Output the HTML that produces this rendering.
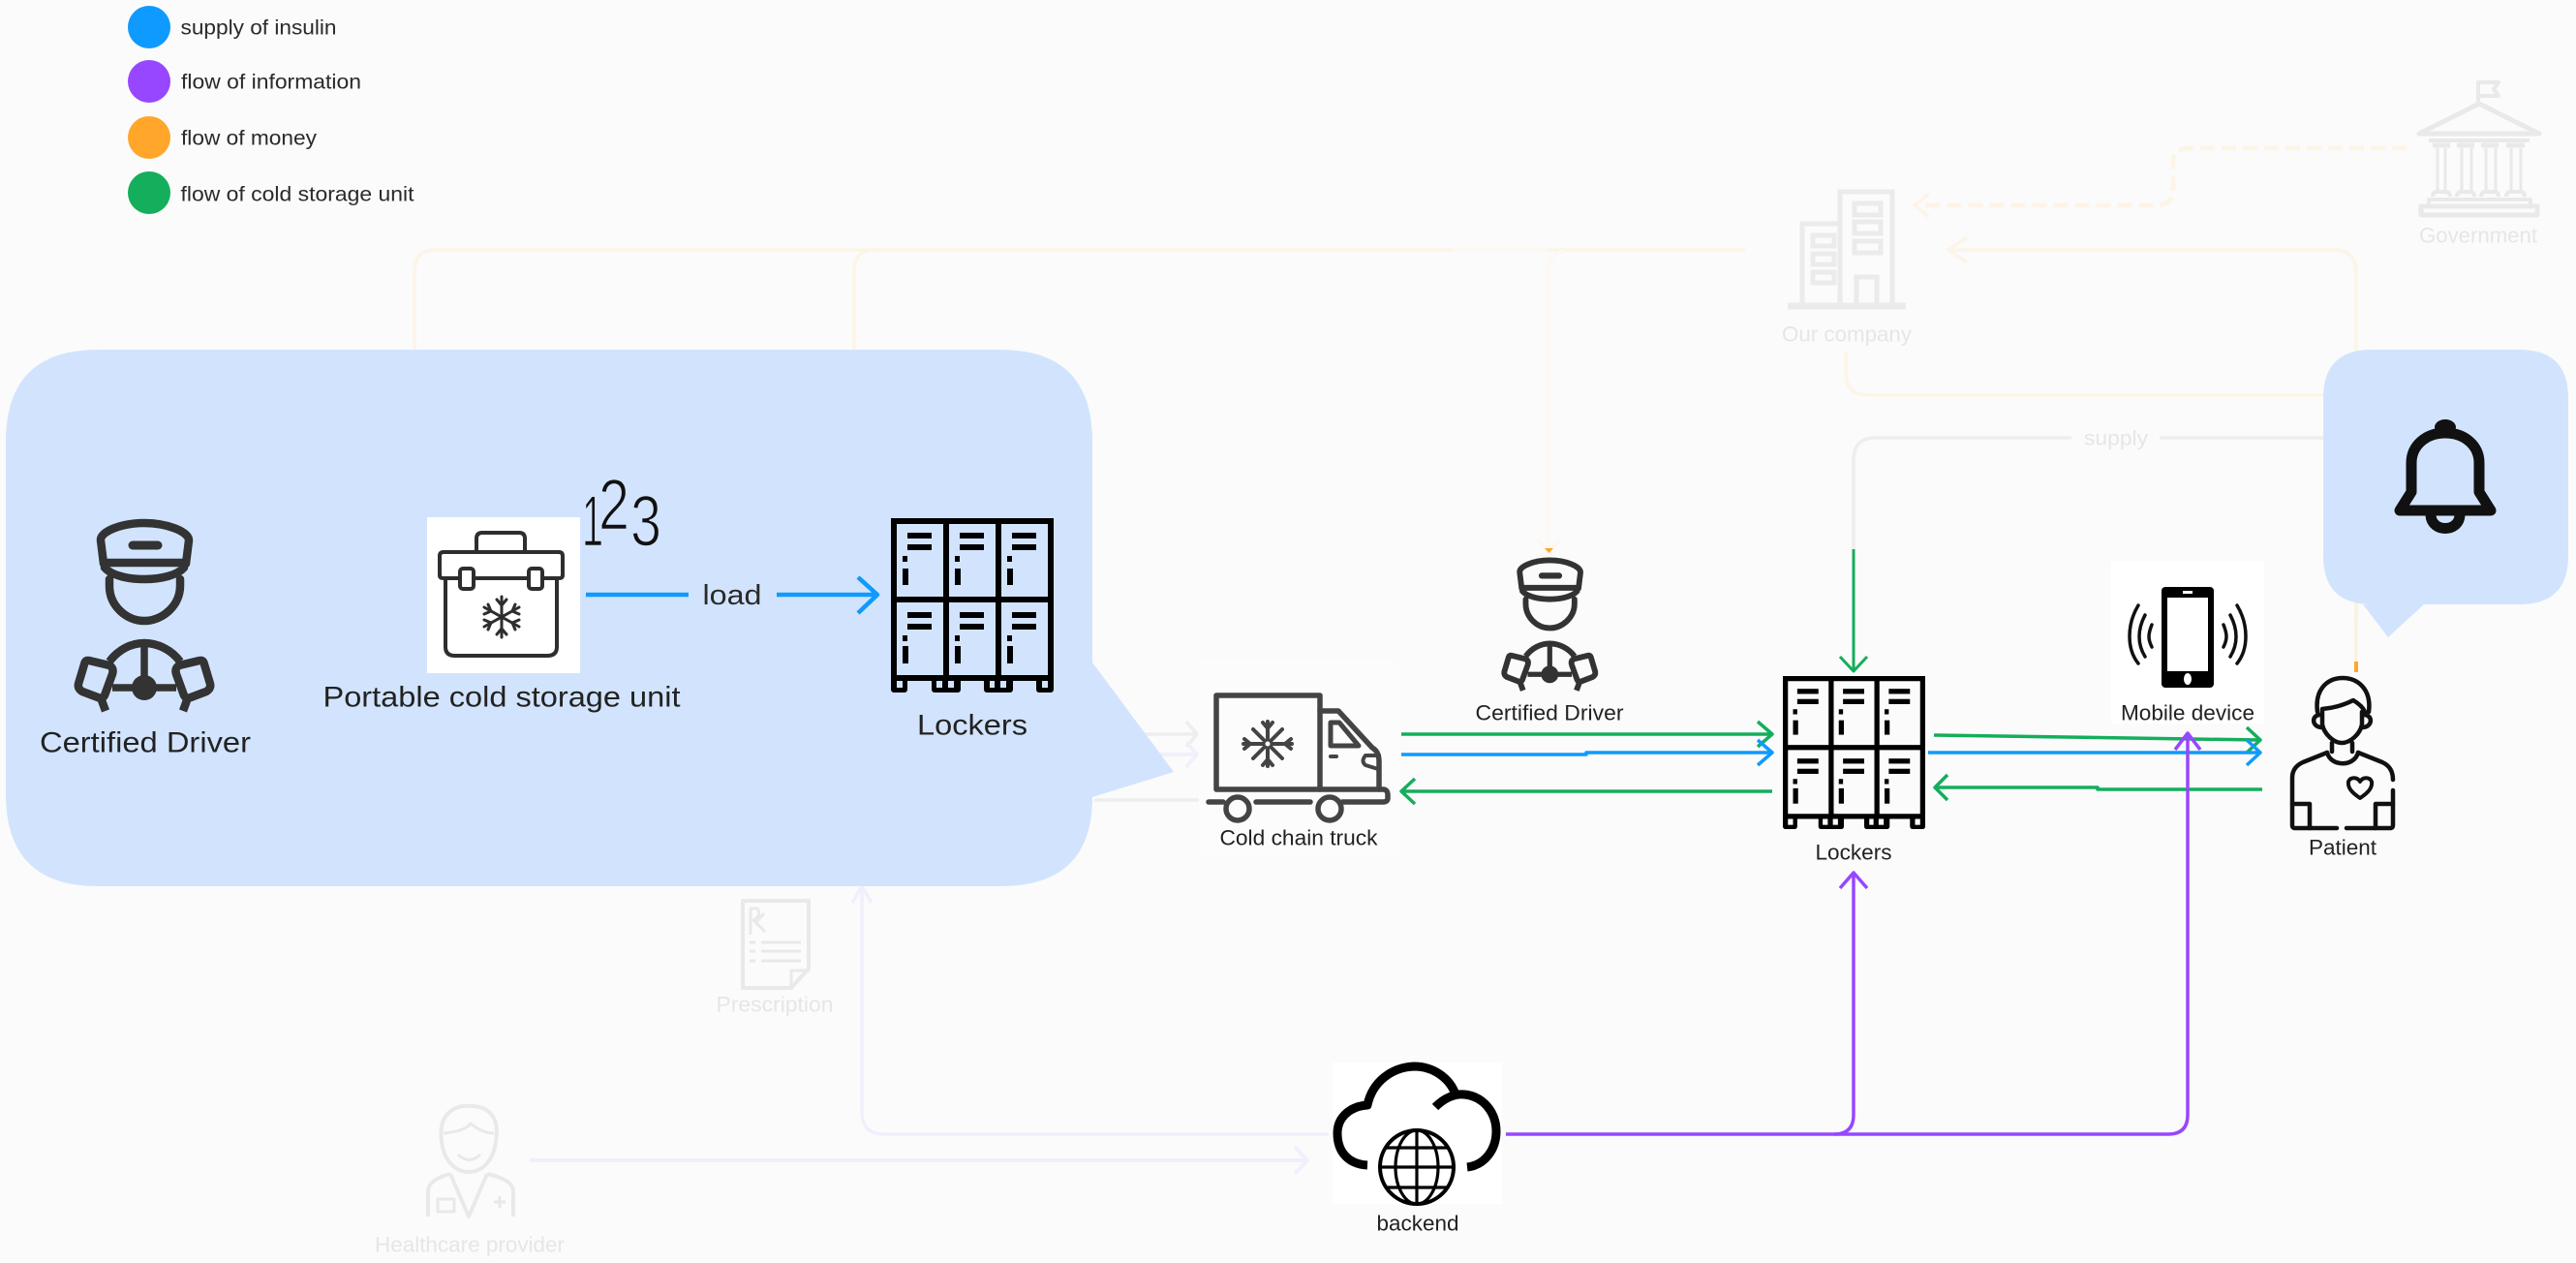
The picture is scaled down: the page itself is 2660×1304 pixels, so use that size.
<!DOCTYPE html>
<html><head><meta charset="utf-8"><style>
html,body{margin:0;padding:0;background:#fbfbfb;width:2660px;height:1304px;overflow:hidden}
svg{display:block}
text{font-family:"Liberation Sans",sans-serif;text-anchor:middle;dominant-baseline:central}
.l{fill:none;stroke-linecap:butt;stroke-linejoin:round}
.i{fill:none;stroke-linecap:round;stroke-linejoin:round}
</style></head><body>
<svg width="2660" height="1304" viewBox="0 0 2660 1304" xmlns="http://www.w3.org/2000/svg">
<defs>
<g id="driver">
 <g class="i" stroke="#333" stroke-width="8.5">
  <path d="M107,582 L104,558 C103,549 125,540 149,540 C173,540 195,549 195,558 L192,582"/>
  <path d="M107,581 H191"/>
  <path d="M108,586 C122,602 176,602 190,586"/>
  <path d="M113,598 V605 C113,625 130,641 149,641 C168,641 186,625 186,605 V598"/>
  <path d="M137,563 H163" stroke-width="9"/>
  <path d="M113,683 C122,671 135,664 149,664 C163,664 177,671 186,683" stroke-linecap="butt"/>
  <path d="M149,664 V705 M116,710 H182" stroke-linecap="butt" stroke-width="7.5"/>
  <path d="M92,682 L113,687 Q118,690 116,696 L108,718 Q106,722 101,720 L85,714 Q80,711 81,706 L87,686 Q88,681 92,682Z"/>
  <path d="M206,682 L185,687 Q180,690 182,696 L190,718 Q192,722 197,720 L213,714 Q218,711 217,706 L211,686 Q210,681 206,682Z"/>
  <path d="M105,723 L109,734 M193,723 L189,734" stroke-linecap="butt"/>
 </g>
 <circle cx="149" cy="710" r="13" fill="#333"/>
</g>
<g id="lockers">
 <g fill="none" stroke="#000" stroke-width="6">
  <path d="M923,538 H1085 V700 H923Z"/>
  <path d="M977,538 V700 M1031,538 V700 M923,619 H1085"/>
 </g>
 <path d="M920,703h17v9a3,3 0 0 1 -3,3h-11a3,3 0 0 1 -3,-3Z M962,703h30v9a3,3 0 0 1 -3,3h-24a3,3 0 0 1 -3,-3Z M1016,703h30v9a3,3 0 0 1 -3,3h-24a3,3 0 0 1 -3,-3Z M1070,703h18v9a3,3 0 0 1 -3,3h-12a3,3 0 0 1 -3,-3Z" fill="#000"/>
 <rect x="926" y="703" width="6" height="7"/><rect x="967" y="703" width="6" height="7"/><rect x="979" y="703" width="6" height="7"/><rect x="1022" y="703" width="5" height="7"/><rect x="1033" y="703" width="6" height="7"/><rect x="1076" y="703" width="6" height="7"/>
 <g fill="#000">
  <rect x="937" y="550" width="25" height="6"/><rect x="937" y="562" width="25" height="6"/><rect x="932" y="574" width="5" height="6"/><rect x="932" y="587" width="6" height="17"/>
  <rect x="937" y="632" width="25" height="6"/><rect x="937" y="644" width="25" height="6"/><rect x="932" y="656" width="5" height="6"/><rect x="932" y="667" width="6" height="18"/>
  <rect x="991" y="550" width="25" height="6"/><rect x="991" y="562" width="25" height="6"/><rect x="986" y="574" width="5" height="6"/><rect x="986" y="587" width="6" height="17"/>
  <rect x="991" y="632" width="25" height="6"/><rect x="991" y="644" width="25" height="6"/><rect x="986" y="656" width="5" height="6"/><rect x="986" y="667" width="6" height="18"/>
  <rect x="1045" y="550" width="25" height="6"/><rect x="1045" y="562" width="25" height="6"/><rect x="1040" y="574" width="5" height="6"/><rect x="1040" y="587" width="6" height="17"/>
  <rect x="1045" y="632" width="25" height="6"/><rect x="1045" y="644" width="25" height="6"/><rect x="1040" y="656" width="5" height="6"/><rect x="1040" y="667" width="6" height="18"/>
 </g>
</g>
</defs>

<rect width="2660" height="1304" fill="#fbfbfb"/>

<!-- legend -->
<circle cx="154" cy="28" r="22" fill="#0f9aff"/>
<circle cx="154" cy="84" r="22" fill="#9747ff"/>
<circle cx="154" cy="142" r="22" fill="#ffa62b"/>
<circle cx="154" cy="199" r="22" fill="#14ae5c"/>
<g font-size="21" fill="#2a2a2a">
<text x="267" y="29" textLength="161" lengthAdjust="spacingAndGlyphs">supply of insulin</text>
<text x="280" y="85" textLength="186" lengthAdjust="spacingAndGlyphs">flow of information</text>
<text x="257" y="143" textLength="140" lengthAdjust="spacingAndGlyphs">flow of money</text>
<text x="307" y="201" textLength="241" lengthAdjust="spacingAndGlyphs">flow of cold storage unit</text>
</g>

<!-- faint connectors -->
<g class="l" stroke="#fdf4e8" stroke-width="3.5">
 <path d="M428,370 V280 Q428,258 450,258 H1498"/>
 <path d="M882,370 V280 Q882,258 904,258"/>
 <path d="M1597,258 H1802"/>
 <path d="M2433,640 V282 Q2433,258 2410,258 H2014"/>
 <path d="M2032,245 L2013,258 L2032,271" transform="translate(-1,0)"/>
 <path d="M1906,363 V385 Q1906,408 1929,408 H2410"/>
 <path d="M2485,153 H2262 Q2244,153 2244,166 V195 Q2244,212 2225,212 H1982" stroke-dasharray="15 7" stroke-width="5"/>
 <path d="M1992,200 L1977,212 L1992,224"/>
</g>
<g class="l" stroke="#fdf8f1" stroke-width="3.5">
 <path d="M1498,258 H1597"/>
 <path d="M1599,566 V280 Q1599,262 1615,259"/>
 <path d="M1587,556 L1599,570 L1611,556"/>
</g>
<path d="M1595,566 h9 l-4.5,5z" fill="#ffa62b"/>
<path d="M2433,620 V684" stroke="#fbf1e2" stroke-width="3.5"/>
<rect x="2431" y="683" width="4" height="11" fill="#ffa62b"/>
<g class="l" stroke="#eeeeee" stroke-width="3.5">
 <path d="M2139,452 H1937 Q1914,452 1914,475 V567"/>
 <path d="M2230,452 H2420"/>
 <path d="M1130,758 H1236 M1130,826 H1240"/>
 <path d="M1225,745 L1236,758 L1225,771"/>
</g>
<g class="l" stroke="#f0effc" stroke-width="3.5">
 <path d="M1130,779 H1236"/>
 <path d="M1225,766 L1236,779 L1225,792"/>
 <path d="M890,918 V1148 Q890,1171 913,1171 H1372"/>
 <path d="M880,932 L890,915 L900,932"/>
 <path d="M547,1198 H1348" stroke-width="4"/>
 <path d="M1337,1184 L1350,1198 L1337,1212"/>
</g>
<text x="2185" y="453" font-size="21" fill="#e6e6e6" textLength="66" lengthAdjust="spacingAndGlyphs">supply</text>

<!-- faint icons -->
<g stroke="#ebebeb" fill="none" stroke-width="5">
 <!-- company -->
 <path d="M1846,316 H1968" stroke-width="7"/>
 <path d="M1861,316 V231 H1900 M1900,316 V198 H1954 V316"/>
 <rect x="1872" y="243" width="22" height="11"/><rect x="1872" y="262" width="22" height="11"/><rect x="1872" y="281" width="22" height="11"/>
 <rect x="1915" y="210" width="27" height="12"/><rect x="1915" y="229" width="27" height="12"/><rect x="1915" y="249" width="27" height="12"/>
 <path d="M1917,316 V286 H1938 V316"/>
</g>
<g stroke="#e9e9e9" fill="none" stroke-width="4" stroke-linejoin="round">
 <!-- government -->
 <path d="M2559,108 V85 H2580 L2575,92 L2580,99 H2559"/>
 <path d="M2498,138 L2560,107 L2622,138 Z" stroke-width="5"/>
 <path d="M2508,145 H2612" stroke-width="4"/>
 <path d="M2512,150 H2530 M2537,150 H2555 M2562,150 H2580 M2588,150 H2607" stroke-width="5"/>
 <path d="M2517,153 V197 M2525,153 V197 M2542,153 V197 M2552,153 V197 M2567,153 V197 M2577,153 V197 M2593,153 V197 M2603,153 V197" stroke-width="3"/>
 <path d="M2512,203 Q2512,198 2517,198 H2525 Q2530,198 2530,203 M2537,203 Q2537,198 2542,198 H2550 Q2555,198 2555,203 M2562,203 Q2562,198 2567,198 H2575 Q2580,198 2580,203 M2588,203 Q2588,198 2593,198 H2602 Q2607,198 2607,203" stroke-width="4"/>
 <path d="M2508,213 V206 H2613 V213"/>
 <rect x="2500" y="213" width="120" height="9" stroke-width="5"/>
 <!-- prescription -->
 <path d="M767,930 H835 V1000 L817,1020 H767Z" stroke-width="4"/>
 <path d="M817,1020 V1002 H836" stroke-width="3"/>
 <path d="M774,973 H780 M774,982 H780 M774,992 H780" stroke-width="3"/>
 <path d="M786,973 H827 M786,982 H827 M786,992 H827" stroke-width="3"/>
 <path d="M775,965 V938 H782 Q787,945 778,950 L790,962 M781,952 L789,943" stroke-width="3"/>
 <!-- doctor -->
 <path d="M456,1178 C452,1150 470,1140 486,1142 C506,1142 516,1155 512,1178 C510,1198 498,1210 484,1210 C470,1210 458,1198 456,1178Z" stroke-width="4"/>
 <path d="M458,1170 Q480,1168 486,1160 Q498,1170 510,1170" stroke-width="3"/>
 <path d="M473,1192 Q484,1203 496,1192" stroke-width="3"/>
 <path d="M442,1256 V1230 Q442,1218 465,1212 M530,1256 V1230 Q530,1218 503,1212 M465,1212 L484,1256 L503,1212" stroke-width="4"/>
 <rect x="452" y="1238" width="17" height="13" stroke-width="3"/>
 <path d="M516,1235 v12 m-6,-6 h12" stroke-width="3"/>
</g>
<g fill="#e6e6e6" font-size="22">
 <text x="1907" y="345" textLength="134" lengthAdjust="spacingAndGlyphs">Our company</text>
 <text x="2559" y="243" textLength="122" lengthAdjust="spacingAndGlyphs">Government</text>
 <text x="800" y="1037" textLength="121" lengthAdjust="spacingAndGlyphs">Prescription</text>
 <text x="485" y="1285" textLength="196" lengthAdjust="spacingAndGlyphs">Healthcare provider</text>
</g>

<!-- big bubble -->
<path d="M101,361 H1033 Q1128,361 1128,456 V684 L1212,797 L1128,823 Q1128,915 1033,915 H101 Q6,915 6,820 V456 Q6,361 101,361Z" fill="#d2e4fd"/>

<!-- right bubble -->
<path d="M2449,361 H2602 Q2652,361 2652,411 V574 Q2652,624 2602,624 H2503 L2466,658 L2440,624 H2449 Q2399,624 2399,574 V411 Q2399,361 2449,361Z" fill="#d2e4fd"/>

<!-- bell -->
<g fill="none" stroke="#111" stroke-width="11" stroke-linejoin="round" stroke-linecap="round">
 <path d="M2478,527 L2490,508 V478 C2490,460 2505,447 2525,447 C2545,447 2560,460 2560,478 V508 L2572,527 Z"/>
 <path d="M2510,532 C2511,550 2539,550 2540,532" stroke-linecap="butt"/>
</g>
<ellipse cx="2525" cy="441" rx="11" ry="8" fill="#111"/>

<!-- large driver -->
<use href="#driver"/>
<text x="150" y="767" font-size="30" fill="#222" textLength="218" lengthAdjust="spacingAndGlyphs">Certified Driver</text>

<!-- cooler -->
<rect x="441" y="534" width="158" height="161" fill="#fff"/>
<g class="i" stroke="#2e2e2e" stroke-width="4">
 <path d="M492,570 V556 Q492,550 498,550 H536 Q542,550 542,556 V570"/>
 <path d="M458,570 H577 Q581,570 581,574 V594 Q581,597 577,597 H458 Q454,597 454,594 V574 Q454,570 458,570Z"/>
 <path d="M460,597 V668 Q460,677 470,677 H565 Q575,677 575,668 V597"/>
 <rect x="475" y="587" width="14" height="21" rx="3" fill="#fff"/>
 <rect x="546" y="587" width="14" height="21" rx="3" fill="#fff"/>
 <g transform="translate(518,637)" stroke-width="3">
  <path d="M0,-21 V21 M-18,-10 L18,10 M-18,10 L18,-10"/>
  <path d="M-5,-18 L0,-12 L5,-18 M-5,18 L0,12 L5,18 M-18,-3 L-11,-6 L-14,-13 M18,-3 L11,-6 L14,-13 M-18,3 L-11,6 L-14,13 M18,3 L11,6 L14,13"/>
 </g>
</g>

<!-- 123 -->
<g fill="#111" font-size="74" stroke="#d2e4fd" stroke-width="1.6">
 <text x="612" y="538" textLength="22" lengthAdjust="spacingAndGlyphs">1</text>
 <text x="634" y="521" textLength="32" lengthAdjust="spacingAndGlyphs">2</text>
 <text x="667" y="538" textLength="32" lengthAdjust="spacingAndGlyphs">3</text>
</g>

<!-- load arrow -->
<g class="l" stroke="#0f9aff" stroke-width="4.5">
 <path d="M605,614 H711 M802,614 H904"/>
 <path d="M886,596 L906,614 L886,633"/>
</g>
<text x="756" y="615" font-size="29" fill="#2a2a2a" textLength="61" lengthAdjust="spacingAndGlyphs">load</text>
<text x="518" y="720" font-size="30" fill="#222" textLength="369" lengthAdjust="spacingAndGlyphs">Portable cold storage unit</text>

<!-- large lockers -->
<g fill="#d2e4fd"><use href="#lockers"/></g>
<text x="1004" y="749" font-size="30" fill="#222" textLength="114" lengthAdjust="spacingAndGlyphs">Lockers</text>

<!-- truck -->
<rect x="1238" y="680" width="206" height="205" fill="#fcfcfc"/>
<g class="i" stroke="#444" stroke-width="5.5">
 <path d="M1256,718 H1363 V815 H1256Z"/>
 <path d="M1363,734 H1382 L1417,772 Q1424,776 1424,786 V815"/>
 <path d="M1374,746 H1383 L1403,770 H1374Z" stroke-width="5"/>
 <path d="M1374,781 H1380" stroke-width="4"/>
 <path d="M1424,780 H1410 Q1405,786 1410,790 L1423,794" stroke-width="4"/>
 <path d="M1363,815 H1428 Q1433,815 1433,821 V824 Q1433,828 1428,828 H1386 M1297,828 H1353 M1248,828 H1263"/>
 <circle cx="1278" cy="835" r="12" fill="#fcfcfc"/>
 <circle cx="1373" cy="835" r="12" fill="#fcfcfc"/>
 <g transform="translate(1309,768)" stroke-width="4">
  <path d="M0,-23 V-5 M0,5 V23 M-25,0 H-5 M5,0 H25 M-15,-15 L-4,-4 M15,-15 L4,-4 M-15,15 L-4,4 M15,15 L4,4"/>
  <path d="M-5,-22 L0,-16 L5,-22 M-5,22 L0,16 L5,22 M-24,-5 L-18,0 L-24,5 M24,-5 L18,0 L24,5"/>
  <circle r="4" stroke-width="3"/>
 </g>
</g>
<text x="1341" y="865" font-size="22" fill="#222" textLength="163" lengthAdjust="spacingAndGlyphs">Cold chain truck</text>

<!-- small driver -->
<g transform="translate(1552,575) scale(.69,.693) translate(-79,-535)"><use href="#driver"/></g>
<text x="1600" y="736" font-size="22" fill="#222" textLength="153" lengthAdjust="spacingAndGlyphs">Certified Driver</text>

<!-- small lockers -->
<g fill="#fbfbfb" transform="translate(1841,698) scale(.875,.878) translate(-920,-535)"><use href="#lockers"/></g>
<text x="1914" y="880" font-size="22" fill="#222" textLength="79" lengthAdjust="spacingAndGlyphs">Lockers</text>

<!-- mobile -->
<rect x="2180" y="579" width="158" height="168" fill="#fff"/>
<rect x="2235" y="609" width="48" height="98" rx="6" fill="#fff" stroke="#000" stroke-width="6"/>
<rect x="2232" y="606" width="54" height="11" rx="4" fill="#000"/><rect x="2232" y="693" width="54" height="17" rx="4" fill="#000"/>
<rect x="2254" y="610" width="10" height="3" fill="#fff"/><ellipse cx="2259" cy="701" rx="4" ry="6" fill="#fff"/>
<g class="i" stroke="#111" stroke-width="3.5">
 <path d="M2208,625 C2196,645 2196,670 2208,685"/><path d="M2215,635 C2207,650 2207,665 2215,678"/><path d="M2222,645 C2218,655 2218,660 2222,668"/>
 <path d="M2310,625 C2322,645 2322,670 2310,685"/><path d="M2303,635 C2311,650 2311,665 2303,678"/><path d="M2296,645 C2300,655 2300,660 2296,668"/>
</g>
<text x="2259" y="736" font-size="22" fill="#222" textLength="138" lengthAdjust="spacingAndGlyphs">Mobile device</text>

<!-- patient -->
<g class="i" stroke="#111" stroke-width="4.5">
 <path d="M2393,735 C2390,712 2403,700 2419,700 C2435,700 2449,712 2446,735"/>
 <path d="M2398,732 C2410,731 2422,727 2430,723 C2435,726 2440,730 2442,735"/>
 <path d="M2398,733 V748 C2400,758 2410,767 2418,767 C2427,767 2437,758 2439,748 V735"/>
 <path d="M2397,738 C2387,737 2386,750 2397,751 M2440,738 C2450,737 2451,750 2440,751"/>
 <path d="M2408,767 V776 M2429,767 V776"/>
 <path d="M2403,777 C2407,792 2431,792 2435,777"/>
 <path d="M2403,777 L2378,787 Q2367,792 2367,803 V852 Q2367,855 2370,855 H2413"/>
 <path d="M2435,777 L2460,787 Q2471,792 2471,805 M2471,816 V852 Q2471,855 2468,855 H2423"/>
 <path d="M2367,830 H2385 V855 M2471,830 H2453 V855"/>
 <path d="M2437,824 C2428,818 2424,813 2425,807 C2427,802 2434,802 2437,807 C2440,802 2447,802 2449,807 C2450,813 2446,818 2437,824Z" stroke-width="4"/>
</g>
<text x="2419" y="875" font-size="22" fill="#222" textLength="70" lengthAdjust="spacingAndGlyphs">Patient</text>

<!-- cloud -->
<rect x="1376" y="1097" width="175" height="146" fill="#fff"/>
<g fill="none" stroke="#000" stroke-width="9" stroke-linejoin="round">
 <path d="M1412,1203 C1393,1202 1381,1190 1381,1170 C1381,1153 1395,1142 1412,1141 C1417,1117 1437,1102 1460,1101 C1480,1101 1497,1113 1503,1130"/>
 <path d="M1482,1143 C1492,1133 1503,1129 1512,1130 C1533,1132 1545,1150 1545,1168 C1545,1187 1533,1203 1515,1205"/>
</g>
<circle cx="1463" cy="1205" r="38" fill="#fff" stroke="#000" stroke-width="4"/>
<g fill="none" stroke="#000" stroke-width="3.2">
 <ellipse cx="1463" cy="1205" rx="22" ry="38"/>
 <path d="M1463,1167 V1243 M1432,1185 H1494 M1425,1205 H1501 M1432,1226 H1494"/>
</g>
<text x="1464" y="1263" font-size="22" fill="#222" textLength="85" lengthAdjust="spacingAndGlyphs">backend</text>

<!-- coloured connectors -->
<g class="l" stroke="#14ae5c" stroke-width="3.5">
 <path d="M1447,758 H1829 M1815,745 L1830,758 L1815,771"/>
 <path d="M1830,817 H1449 M1461,804 L1447,817 L1461,830"/>
 <path d="M1914,567 V692 M1900,678 L1914,693 L1928,678" stroke-width="3"/>
 <path d="M1997,759 L2333,764 M2320,751 L2334,764 L2320,777"/>
 <path d="M2336,815 H2166 V813 H2000 M2011,800 L1998,813 L2011,826"/>
</g>
<g class="l" stroke="#0f9aff" stroke-width="3.5">
 <path d="M1447,779 H1638 V777 H1829 M1815,764 L1830,777 L1815,790"/>
 <path d="M1991,777 H2333 M2320,764 L2334,777 L2320,790"/>
</g>
<g class="l" stroke="#9747ff" stroke-width="3.5">
 <path d="M1555,1171 H1894 Q1914,1171 1914,1151 V902 M1900,917 L1914,901 L1928,917"/>
 <path d="M1894,1171 H2239 Q2259,1171 2259,1151 V758 M2246,774 L2259,757 L2272,774"/>
</g>
</svg>
</body></html>
